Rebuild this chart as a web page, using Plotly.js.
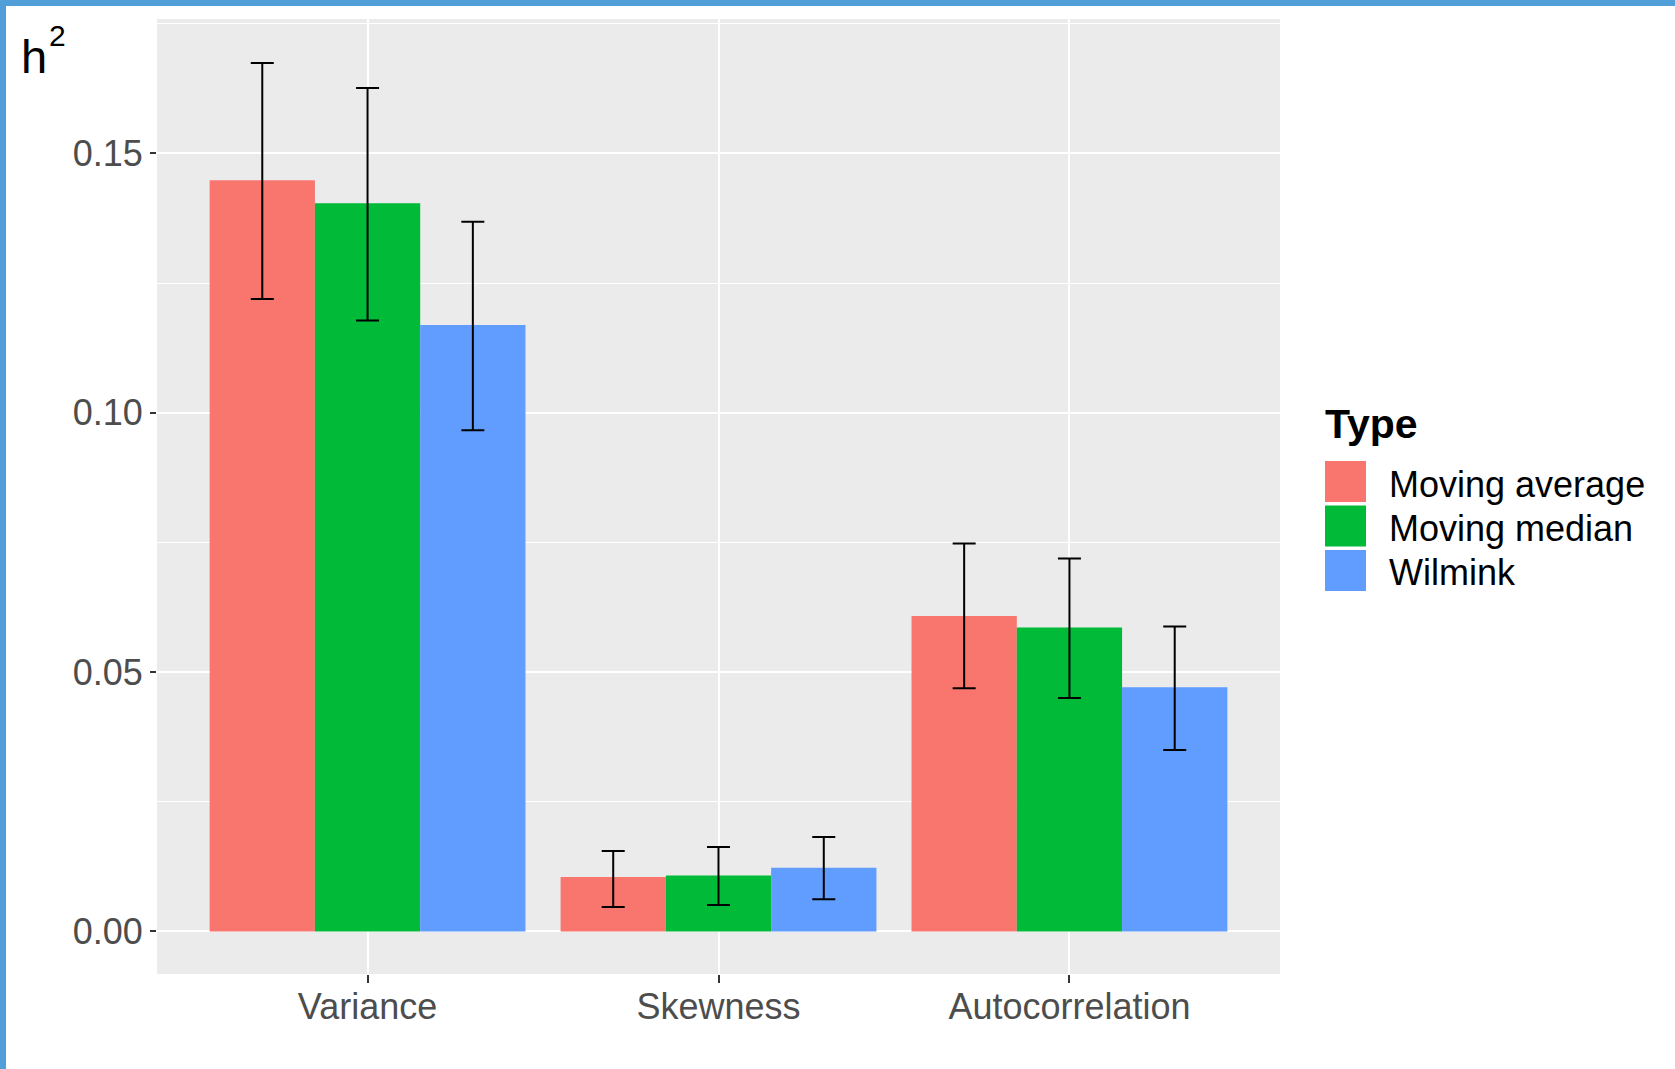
<!DOCTYPE html>
<html>
<head>
<meta charset="utf-8">
<script src="https://cdn.plot.ly/plotly-3.0.1.min.js"></script>
<style>
  html, body { margin: 0; padding: 0; background: #ffffff; }
  #wrap { position: relative; width: 1675px; height: 1069px; overflow: hidden; }
  #chart { position: absolute; left: 0; top: 0; width: 1675px; height: 1069px; }
  .bt { position: absolute; left: 0; top: 0; width: 1675px; height: 6px; background: #509fd8; }
  .bl { position: absolute; left: 0; top: 0; width: 6px; height: 1069px; background: #509fd8; }
</style>
</head>
<body>
<div id="wrap">
  <div id="chart"></div>
  <div class="bt"></div>
  <div class="bl"></div>
</div>
<script>
// ---- data ----
const categories = ["Variance", "Skewness", "Autocorrelation"];
const seriesNames = ["Moving average", "Moving median", "Wilmink"];
const seriesColors = ["#F8766D", "#00BA38", "#619CFF"];

const movingAverage      = [0.1448, 0.0105, 0.0608];
const movingAverageUpper = [0.1674, 0.0155, 0.0748];
const movingAverageLower = [0.1219, 0.0047, 0.0469];

const movingMedian       = [0.1404, 0.0108, 0.0586];
const movingMedianUpper  = [0.1626, 0.0163, 0.0719];
const movingMedianLower  = [0.1178, 0.0051, 0.0450];

const wilmink            = [0.1169, 0.0123, 0.0471];
const wilminkUpper       = [0.1368, 0.0182, 0.0588];
const wilminkLower       = [0.0966, 0.0062, 0.0350];

const yTickVals = [0, 0.05, 0.10, 0.15];
const yTickText = ["0.00", "0.05", "0.10", "0.15"];

// ---- build ----
const values = [movingAverage, movingMedian, wilmink];
const uppers = [movingAverageUpper, movingMedianUpper, wilminkUpper];
const lowers = [movingAverageLower, movingMedianLower, wilminkLower];

const FONT = "Liberation Sans, Arial, sans-serif";
const W = 1675, H = 1069;
const M = { l: 157, r: 395, t: 19, b: 95 };
const PW = W - M.l - M.r, PH = H - M.t - M.b;
const px = x => (x - M.l) / PW;
const py = y => (H - M.b - y) / PH;

const traces = values.map((vals, i) => ({
  type: "bar",
  name: seriesNames[i],
  x: categories,
  y: vals,
  marker: { color: seriesColors[i], line: { width: 0 } },
  error_y: {
    type: "data",
    symmetric: false,
    array: uppers[i].map((u, k) => u - vals[k]),
    arrayminus: vals.map((v, k) => v - lowers[i][k]),
    color: "#000000",
    thickness: 2,
    width: 11.5
  },
  showlegend: false,
  hoverinfo: "x+y+name"
}));

const shapes = [];
const annotations = [];

// y axis title h^2
annotations.push({
  xref: "paper", yref: "paper", x: px(19), y: py(56),
  xanchor: "left", yanchor: "middle", showarrow: false,
  text: "h", font: { family: FONT, size: 47, color: "#000000" }
});
annotations.push({
  xref: "paper", yref: "paper", x: px(47), y: py(35),
  xanchor: "left", yanchor: "middle", showarrow: false,
  text: "2", font: { family: FONT, size: 30, color: "#000000" }
});

// legend (manual, ggplot-style keys)
annotations.push({
  xref: "paper", yref: "paper", x: px(1323), y: py(424),
  xanchor: "left", yanchor: "middle", showarrow: false,
  text: "<b>Type</b>", font: { family: FONT, size: 41, color: "#000000" }
});
seriesNames.forEach((name, i) => {
  const top = 461 + 44.5 * i;
  shapes.push({
    type: "rect", xref: "paper", yref: "paper",
    x0: px(1325), x1: px(1366), y0: py(top), y1: py(top + 41),
    fillcolor: seriesColors[i], line: { width: 0 }
  });
  annotations.push({
    xref: "paper", yref: "paper", x: px(1387), y: py(top + 23),
    xanchor: "left", yanchor: "middle", showarrow: false,
    text: name, font: { family: FONT, size: 36, color: "#000000" }
  });
});

const layout = {
  width: W, height: H,
  margin: M,
  paper_bgcolor: "#ffffff",
  plot_bgcolor: "#EBEBEB",
  font: { family: FONT, size: 36, color: "#4D4D4D" },
  barmode: "group",
  bargap: 0.1,
  bargroupgap: 0,
  showlegend: false,
  xaxis: {
    type: "category",
    range: [-0.6, 2.6],
    showgrid: true, gridcolor: "#ffffff", gridwidth: 2,
    zeroline: false, showline: false,
    ticks: "outside", ticklen: 8, tickwidth: 2, tickcolor: "#333333",
    ticklabelstandoff: -7,
    tickfont: { family: FONT, size: 36, color: "#4D4D4D" },
    fixedrange: true
  },
  yaxis: {
    range: [-0.0082, 0.1759],
    tickvals: yTickVals, ticktext: yTickText,
    showgrid: true, gridcolor: "#ffffff", gridwidth: 2,
    minor: { dtick: 0.025, tick0: 0.025, showgrid: true, gridcolor: "#ffffff", gridwidth: 1, ticks: "" },
    zeroline: false, showline: false,
    ticks: "outside", ticklen: 6, tickwidth: 2, tickcolor: "#333333",
    tickfont: { family: FONT, size: 36, color: "#4D4D4D" },
    fixedrange: true
  },
  shapes: shapes,
  annotations: annotations
};

Plotly.newPlot("chart", traces, layout, { displayModeBar: false, staticPlot: true });
</script>
</body>
</html>
